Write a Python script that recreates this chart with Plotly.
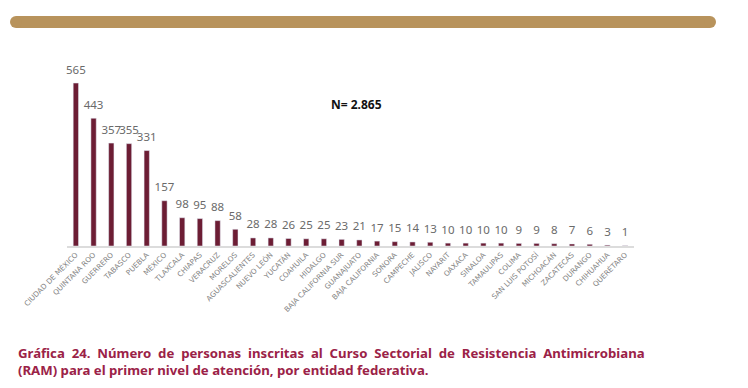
import plotly.graph_objects as go

estados = ["CIUDAD DE MÉXICO", "QUINTANA ROO", "GUERRERO", "TABASCO", "PUEBLA", "MÉXICO",
           "TLAXCALA", "CHIAPAS", "VERACRUZ", "MORELOS", "AGUASCALIENTES", "NUEVO LEÓN",
           "YUCATÁN", "COAHUILA", "HIDALGO", "BAJA CALIFORNIA SUR", "GUANAJUATO",
           "BAJA CALIFORNIA", "SONORA", "CAMPECHE", "JALISCO", "NAYARIT", "OAXACA",
           "SINALOA", "TAMAULIPAS", "COLIMA", "SAN LUIS POTOSÍ", "MICHOACÁN", "ZACATECAS",
           "DURANGO", "CHIHUAHUA", "QUERÉTARO"]
inscritos = [565, 443, 357, 355, 331, 157, 98, 95, 88, 58, 28, 28, 26, 25, 25, 23, 21,
             17, 15, 14, 13, 10, 10, 10, 10, 9, 9, 8, 7, 6, 3, 1]
total_label = "N= 2.865"
caption_line1 = "Gráfica 24. Número de personas inscritas al Curso Sectorial de Resistencia Antimicrobiana"
caption_line2 = "(RAM) para el primer nivel de atención, por entidad federativa."

BAR = "#6C1D34"
GOLD = "#B8935C"

# page has an 8px body margin: work in screen pixels, convert to figure pixels
OFF = 8
W, H = 748 - OFF, 388 - OFF
plot_left_s, plot_right_s, plot_top_s, base_s = 67, 634, 60, 246
L = plot_left_s - OFF
R = W - (plot_right_s - OFF)
T = plot_top_s - OFF
B = H - (base_s - OFF)
pw, ph = W - L - R, H - T - B

def px(xs):
    return (xs - OFF - L) / pw

def py(ys):
    return (H - B - (ys - OFF)) / ph

fig = go.Figure()
fig.add_trace(go.Bar(x=estados, y=inscritos, marker_color=BAR, width=0.3,
                     hoverinfo="x+y"))
fig.add_trace(go.Scatter(x=estados, y=inscritos, mode="text+markers",
                         marker=dict(size=9, opacity=0),
                         text=[str(v) for v in inscritos],
                         textposition="top center", cliponaxis=False,
                         textfont=dict(family="Noto Sans", size=11.5, color="#6a6a6a"),
                         hoverinfo="skip"))

shapes = []
x0s, x1s, y0s, y1s = 10, 716, 16, 28
r = (y1s - y0s) / 2
shapes.append(dict(type="rect", xref="paper", yref="paper", x0=px(x0s + r), x1=px(x1s - r),
                   y0=py(y1s), y1=py(y0s), fillcolor=GOLD, line_width=0, layer="above"))
for cx in (x0s + r, x1s - r):
    shapes.append(dict(type="circle", xref="paper", yref="paper", xsizemode="pixel",
                       ysizemode="pixel", xanchor=px(cx), yanchor=py((y0s + y1s) / 2),
                       x0=-r, x1=r, y0=-r, y1=r, fillcolor=GOLD, line_width=0, layer="above"))

sp = " \u00a0"
line1 = caption_line1.replace(" ", sp)

fig.update_layout(
    width=W, height=H, margin=dict(l=L, r=R, t=T, b=B),
    paper_bgcolor="white", plot_bgcolor="white", showlegend=False,
    xaxis=dict(tickangle=-45, tickfont=dict(family="DejaVu Sans", size=7.3, color="#858585"),
               showline=True, linecolor="#dcdcdc", linewidth=1.5, ticks="",
               showgrid=False, range=[-0.5, len(estados) - 0.5], automargin=False),
    yaxis=dict(visible=False, range=[0, 645], showgrid=False),
    shapes=shapes,
    annotations=[
        dict(text="<b>" + total_label + "</b>", xref="paper", yref="paper", x=px(356), y=py(104),
             showarrow=False, font=dict(family="Noto Sans", size=12, color="#111111"),
             xanchor="center", yanchor="middle"),
        dict(text="<b>" + line1 + "<br>" + caption_line2 + "</b>", xref="paper", yref="paper",
             x=px(16), y=py(342), showarrow=False, align="left", xanchor="left", yanchor="top",
             font=dict(family="Noto Sans", size=13.2, color="#9B2247")),
    ],
)
fig.write_html("out.html")
